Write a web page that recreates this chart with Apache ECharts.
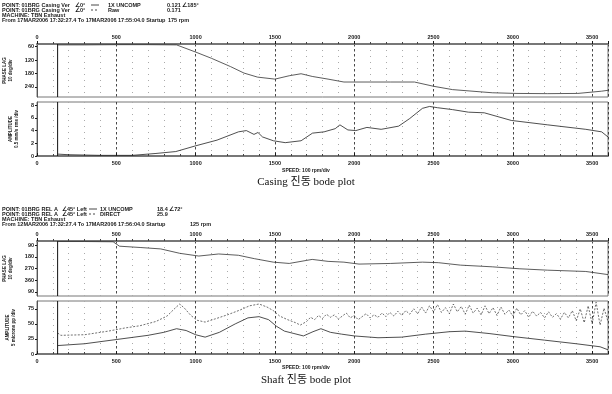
<!DOCTYPE html>
<html>
<head>
<meta charset="utf-8">
<script src="https://cdn.jsdelivr.net/npm/echarts@6/dist/echarts.min.js"></script>
<style>
  html, body { margin: 0; padding: 0; background: #fff; }
  #chart { width: 612px; height: 394px; }
</style>
</head>
<body>
<div id="chart"></div>
<script>
// speed axis (rpm)
const speedTicks = [0, 500, 1000, 1500, 2000, 2500, 3000, 3500];
const startRpm = 130;

// casing bode plot
const casingPhaseRpm = [130, 300, 500, 700, 880, 1000, 1100, 1220, 1305, 1390, 1500, 1590, 1665, 1735, 1835, 1935, 2100, 2230, 2380, 2500, 2620, 2870, 3020, 3220, 3410, 3560, 3600];
const casingPhaseDeg = [52, 52, 51, 51, 52, 84, 112, 149, 178, 196, 205, 190, 181, 193, 205, 218, 218, 218, 218, 237, 252, 266, 269, 270, 269, 259, 255];
const casingAmpRpm = [130, 200, 400, 600, 750, 875, 1000, 1135, 1270, 1320, 1368, 1393, 1422, 1490, 1565, 1665, 1737, 1810, 1880, 1910, 1960, 2010, 2080, 2170, 2280, 2350, 2430, 2475, 2525, 2620, 2720, 2820, 2990, 3220, 3460, 3560, 3600];
const casingAmp = [0.3, 0.2, 0.1, 0.1, 0.4, 0.7, 1.6, 2.5, 3.8, 4.0, 3.4, 3.7, 3.0, 2.4, 2.1, 2.4, 3.6, 3.8, 4.3, 4.9, 4.1, 4.0, 4.5, 4.2, 4.7, 5.9, 7.5, 7.8, 7.6, 7.3, 6.9, 6.8, 5.6, 4.9, 4.2, 3.8, 3.0];
const casingPhaseLabels = [60, 120, 180, 240];
const casingAmpLabels = [0, 2, 4, 6, 8];

// shaft bode plot
const shaftPhaseRpm = [130, 300, 480, 520, 650, 780, 900, 1020, 1145, 1270, 1370, 1490, 1590, 1735, 1835, 1935, 2030, 2230, 2430, 2530, 2670, 2870, 3040, 3220, 3460, 3600];
const shaftPhaseDeg = [62, 62, 64, 98, 108, 119, 153, 174, 158, 168, 194, 221, 231, 200, 215, 221, 236, 231, 221, 225, 244, 257, 272, 283, 293, 317];
const shaftPhaseLabels = [90, 180, 270, 360, 450];
const shaft1xRpm = [130, 300, 500, 700, 800, 880, 940, 1000, 1060, 1150, 1250, 1330, 1400, 1460, 1510, 1560, 1620, 1680, 1740, 1790, 1850, 1920, 2000, 2150, 2300, 2450, 2600, 2700, 2850, 3000, 3200, 3400, 3550, 3600];
const shaft1xAmp = [14, 17, 24, 31, 36, 42, 39, 32, 28, 36, 50, 60, 62, 57, 46, 38, 34, 30, 37, 42, 36, 33, 30, 27, 28, 33, 37, 38, 34, 29, 23, 17, 12, 7];
const shaftDirectRpm = [130, 150, 300, 450, 550, 650, 750, 820, 870, 900, 930, 970, 1010, 1060, 1120, 1200, 1280, 1340, 1400, 1450, 1490, 1530, 1580, 1630, 1660,
  1700, 1725, 1750, 1775, 1800, 1825, 1850, 1875, 1900, 1925, 1950, 1975, 2000, 2025, 2050, 2075, 2100, 2125, 2150, 2175, 2200, 2225, 2250, 2275, 2300, 2325, 2350, 2375,
  2400, 2425, 2450, 2475, 2500, 2525, 2550, 2575, 2600, 2625, 2650, 2675, 2700, 2725, 2750, 2775, 2800, 2825, 2850, 2875, 2900, 2925, 2950, 2975,
  3000, 3025, 3050, 3075, 3100, 3125, 3150, 3175, 3200, 3225, 3250, 3275, 3300, 3325, 3350, 3375, 3400, 3425, 3450, 3475, 3500, 3525, 3550, 3575, 3600];
const shaftDirectAmp = [35, 31, 32, 38, 43, 47, 54, 63, 76, 83, 76, 64, 56, 53, 58, 65, 73, 80, 83, 78, 72, 63, 57, 52, 48,
  54, 61, 57, 64, 59, 66, 61, 65, 58, 63, 68, 60, 64, 57, 62, 67, 60, 65, 61, 68, 62, 69, 63, 71, 64, 72, 66, 75,
  67, 78, 68, 80, 70, 82, 69, 77, 67, 83, 70, 79, 66, 81, 68, 76, 65, 80, 67, 77, 64, 78, 66, 73,
  63, 76, 65, 72, 61, 71, 63, 69, 60, 70, 61, 67, 58, 69, 60, 72, 55, 75, 52, 80, 50, 86, 48, 76, 54];
const shaftAmpLabels = [0, 25, 50, 75];

const zip = (xs, ys) => xs.map((x, i) => [x, ys[i]]);

const FONT = '"Liberation Sans", Arial, sans-serif';
const INK = '#1a1a1a';

// y ranges of the four panels
const ranges = [[48, 285], [0, 8.5], [58, 482], [0, 88]];

const grids = [
  { left: 37, right: 4, top: 44, height: 53 },
  { left: 37, right: 4, top: 102, height: 54 },
  { left: 37, right: 4, top: 241, height: 55 },
  { left: 37, right: 4, top: 301, height: 53 }
].map(g => Object.assign({ show: true, borderColor: '#777', borderWidth: 1, outerBoundsMode: 'none', containLabel: false }, g));

function speedAxis(gridIndex, position) {
  return {
    type: 'value', gridIndex, position, min: 0, max: 3600, interval: 500,
    axisLine: { show: true, onZero: false, lineStyle: { color: '#777', width: 2 } },
    axisTick: { show: true, length: 3, inside: position === 'bottom', lineStyle: { color: INK } },
    minorTick: { show: true, splitNumber: 5, length: 2, lineStyle: { color: '#444' } },
    axisLabel: {
      customValues: speedTicks, formatter: v => String(v),
      fontSize: 5.5, fontWeight: 'bold', fontFamily: FONT, color: INK, margin: 4
    },
    splitLine: { show: true, lineStyle: { color: '#333', type: [2.5, 2.5], width: 0.9 } },
    minorSplitLine: { show: true, lineStyle: { color: '#aaa', type: [1, 5], width: 1 } }
  };
}

function valueAxis(gridIndex, opts) {
  return Object.assign({
    type: 'value', gridIndex,
    min: ranges[gridIndex][0], max: ranges[gridIndex][1],
    nameLocation: 'middle', nameRotate: 90, nameGap: 14,
    nameTextStyle: { fontSize: 4.5, fontFamily: FONT, color: INK, lineHeight: 6, fontWeight: 'bold' },
    axisLine: { show: true, lineStyle: { color: '#555' } },
    minorTick: { show: false },
    splitLine: { show: false }
  }, opts);
}

const labelStyle = { fontSize: 5.5, fontWeight: 'bold', fontFamily: FONT, color: INK, margin: 3 };
function ticksAt(values) {
  return { show: true, length: 2, customValues: values, lineStyle: { color: INK } };
}

function headerText(x, y, text) {
  return {
    type: 'text', left: x, top: y,
    style: { text, fontSize: 5.5, fontWeight: 'bold', fontFamily: FONT, fill: INK }
  };
}
function legendLine(x, y, dashed) {
  return {
    type: 'line', shape: { x1: x, y1: y, x2: x + 8, y2: y },
    style: { stroke: INK, lineWidth: 0.8, lineDash: dashed ? [2, 2] : null }
  };
}
const SERIF = '"Liberation Serif", "DejaVu Serif", "Noto Sans CJK KR", serif';

const graphics = [
  // casing header
  headerText(2, 2, 'POINT: 01BRG Casing Ver'), headerText(75, 2, '∠0°'), legendLine(91, 5, false), headerText(108, 2, '1X UNCOMP'), headerText(167, 2, '0.121 ∠185°'),
  headerText(2, 7, 'POINT: 01BRG Casing Ver'), headerText(75, 7, '∠0°'), legendLine(91, 10, true), headerText(108, 7, 'Raw'), headerText(167, 7, '0.171'),
  headerText(2, 12, 'MACHINE: TBN Exhaust'),
  headerText(2, 17, 'From 17MAR2006 17:32:27.4 To 17MAR2006 17:55:04.0 Startup'), headerText(168, 17, '175 rpm'),
  { type: 'text', left: 'center', top: 168, style: { text: 'SPEED: 100 rpm/div', fontSize: 5, fontWeight: 'bold', fontFamily: FONT, fill: INK } },
  { type: 'text', left: 'center', top: 177, style: { text: 'Casing 진동 bode plot', fontSize: 11, fontFamily: SERIF, fill: '#111' } },
  // shaft header
  headerText(2, 206, 'POINT: 01BRG REL A'), headerText(62, 206, '∠45° Left'), legendLine(89, 209, false), headerText(100, 206, '1X UNCOMP'), headerText(157, 206, '18.4 ∠72°'),
  headerText(2, 211, 'POINT: 01BRG REL A'), headerText(62, 211, '∠45° Left'), legendLine(89, 214, true), headerText(100, 211, 'DIRECT'), headerText(157, 211, '25.9'),
  headerText(2, 216, 'MACHINE: TBN Exhaust'),
  headerText(2, 221, 'From 12MAR2006 17:32:27.4 To 17MAR2006 17:56:04.0 Startup'), headerText(190, 221, '125 rpm'),
  { type: 'text', left: 'center', top: 365, style: { text: 'SPEED: 100 rpm/div', fontSize: 5, fontWeight: 'bold', fontFamily: FONT, fill: INK } },
  { type: 'text', left: 'center', top: 375, style: { text: 'Shaft 진동 bode plot', fontSize: 11, fontFamily: SERIF, fill: '#111' } }
];

// solid vertical start-speed marker in each panel
const startMarkers = ranges.map((r, i) => ({
  type: 'line', xAxisIndex: i, yAxisIndex: i, silent: true, symbol: 'none',
  data: [[startRpm, r[0]], [startRpm, r[1]]],
  lineStyle: { color: '#111', width: 1 }
}));

const option = {
  animation: false,
  backgroundColor: '#fff',
  grid: grids,
  xAxis: [speedAxis(0, 'top'), speedAxis(1, 'bottom'), speedAxis(2, 'top'), speedAxis(3, 'bottom')],
  yAxis: [
    valueAxis(0, { name: 'PHASE LAG\n10 deg/div', inverse: true,
      axisLabel: Object.assign({ customValues: casingPhaseLabels }, labelStyle), axisTick: ticksAt(casingPhaseLabels) }),
    valueAxis(1, { name: 'AMPLITUDE\n0.5 mm/s rms /div',
      axisLabel: Object.assign({ customValues: casingAmpLabels }, labelStyle), axisTick: ticksAt(casingAmpLabels) }),
    valueAxis(2, { name: 'PHASE LAG\n10 deg/div', inverse: true,
      axisLabel: Object.assign({ customValues: shaftPhaseLabels, formatter: v => String(v > 360 ? v - 360 : v) }, labelStyle),
      axisTick: ticksAt(shaftPhaseLabels) }),
    valueAxis(3, { name: 'AMPLITUDE\n5 microns pp /div',
      axisLabel: Object.assign({ customValues: shaftAmpLabels }, labelStyle), axisTick: ticksAt(shaftAmpLabels) })
  ],
  series: startMarkers.concat([
    { type: 'line', xAxisIndex: 0, yAxisIndex: 0, data: zip(casingPhaseRpm, casingPhaseDeg), symbol: 'none',
      lineStyle: { color: '#333', width: 0.8 } },
    { type: 'line', xAxisIndex: 1, yAxisIndex: 1, data: zip(casingAmpRpm, casingAmp), symbol: 'none',
      lineStyle: { color: '#222', width: 0.8 } },
    { type: 'line', xAxisIndex: 2, yAxisIndex: 2, data: zip(shaftPhaseRpm, shaftPhaseDeg), symbol: 'none',
      lineStyle: { color: '#333', width: 0.8 } },
    { type: 'line', xAxisIndex: 3, yAxisIndex: 3, data: zip(shaft1xRpm, shaft1xAmp), symbol: 'none',
      lineStyle: { color: '#222', width: 0.8 } },
    { type: 'line', xAxisIndex: 3, yAxisIndex: 3, data: zip(shaftDirectRpm, shaftDirectAmp), symbol: 'none',
      lineStyle: { color: '#333', width: 0.7, type: [2, 1.5] } }
  ]),
  graphic: graphics
};

const chart = echarts.init(document.getElementById('chart'));
chart.setOption(option);
</script>
</body>
</html>
